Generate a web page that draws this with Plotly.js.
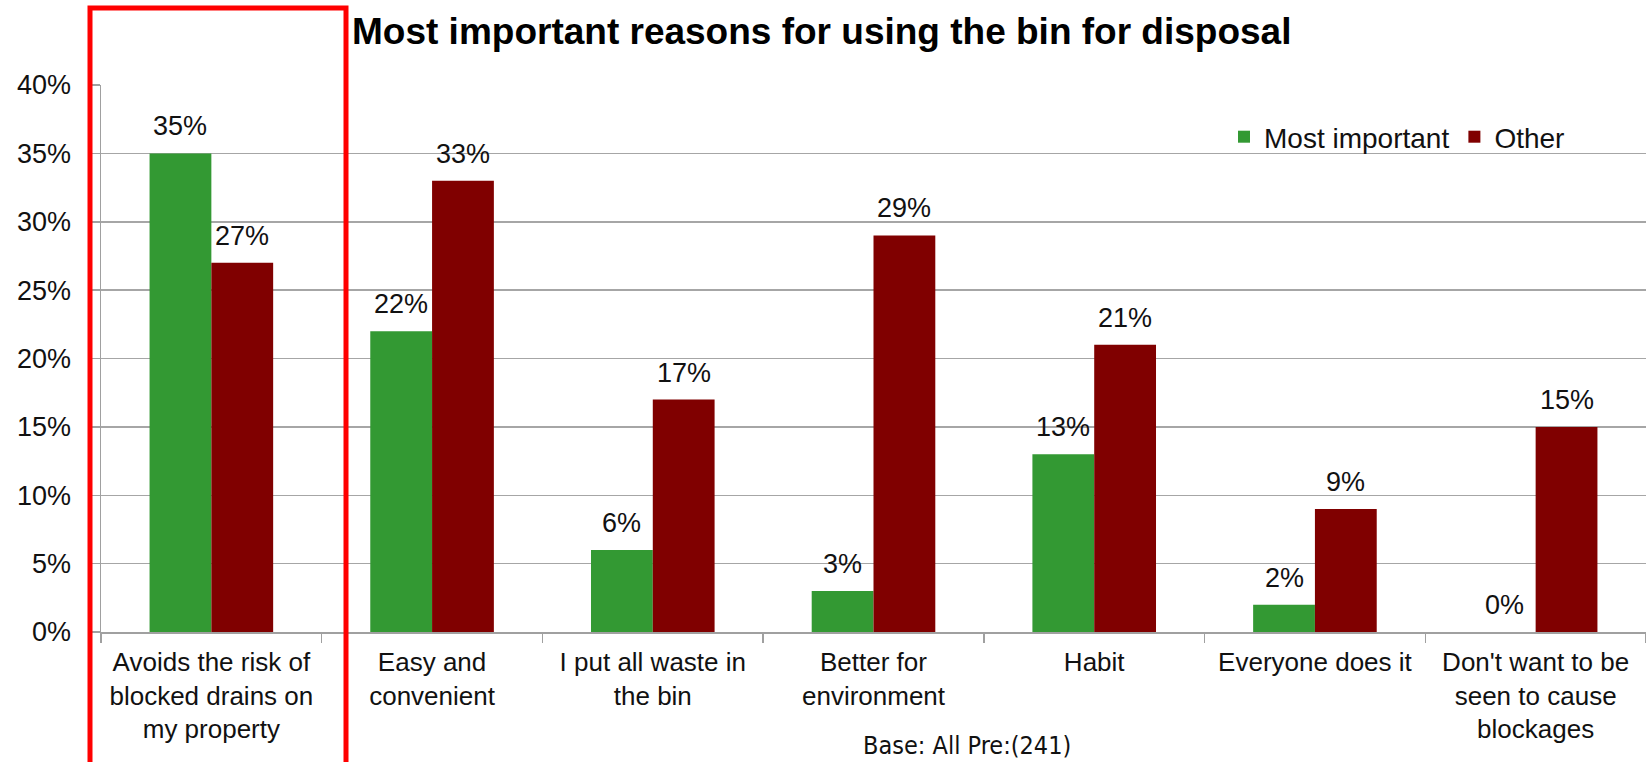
<!DOCTYPE html>
<html>
<head>
<meta charset="utf-8">
<script src="https://cdn.plot.ly/plotly-3.0.1.min.js"></script>
<style>
  html, body { margin: 0; padding: 0; background: #ffffff; }
  #chart { width: 1646px; height: 762px; }
</style>
</head>
<body>
<div id="chart"></div>
<script>
const categories = [
  "Avoids the risk of<br>blocked drains on<br>my property",
  "Easy and<br>convenient",
  "I put all waste in<br>the bin",
  "Better for<br>environment",
  "Habit",
  "Everyone does it",
  "Don't want to be<br>seen to cause<br>blockages"
];
const mostImportant = [35, 22, 6, 3, 13, 2, 0];
const other = [27, 33, 17, 29, 21, 9, 15];
const seriesNames = ["Most important", "Other"];
const yTickVals = [0, 5, 10, 15, 20, 25, 30, 35, 40];
const yTickText = ["0%", "5%", "10%", "15%", "20%", "25%", "30%", "35%", "40%"];
const titleText = "Most important reasons for using the bin for disposal";
const baseText = "Base: All Pre:(241)";

const FONT = "Liberation Sans, Arial, sans-serif";
const GREEN = "#339933";
const RED = "#800000";
const BARGAP = 0.44;
const half = (1 - BARGAP) / 4; // centre offset of each bar in a group

const traces = [
  { type: "bar", name: seriesNames[0], x: categories, y: mostImportant,
    marker: { color: GREEN }, hoverinfo: "skip" },
  { type: "bar", name: seriesNames[1], x: categories, y: other,
    marker: { color: RED }, hoverinfo: "skip" }
];

const labelFont = { family: FONT, size: 27, color: "#111" };
const annotations = [];
mostImportant.forEach((v, i) => annotations.push({
  x: i - half, y: v, xref: "x", yref: "y", text: v + "%", showarrow: false,
  yshift: 27, yanchor: "middle", font: labelFont
}));
other.forEach((v, i) => annotations.push({
  x: i + half, y: v, xref: "x", yref: "y", text: v + "%", showarrow: false,
  yshift: 27, yanchor: "middle", font: labelFont
}));
annotations.push({
  xref: "paper", yref: "paper", x: (967 - 101) / 1545, y: (632 - 745) / 547,
  xanchor: "center", yanchor: "middle",
  text: baseText, showarrow: false,
  font: { family: "Liberation Sans Narrow, DejaVu Sans Condensed, sans-serif", size: 25, color: "#111" }
});

const layout = {
  width: 1646, height: 762,
  paper_bgcolor: "#ffffff", plot_bgcolor: "#ffffff",
  margin: { l: 101, r: 0, t: 85, b: 130, pad: 0 },
  title: {
    text: "<b>" + titleText + "</b>",
    x: 352 / 1646, xanchor: "left", xref: "container",
    y: 1 - 31 / 762, yanchor: "middle", yref: "container",
    font: { family: FONT, size: 37, color: "#000" }
  },
  barmode: "group", bargap: BARGAP, bargroupgap: 0,
  showlegend: true,
  legend: {
    orientation: "h", x: (1570 - 101) / 1545, xanchor: "right", y: 1 - (137 - 85) / 547, yanchor: "middle",
    font: { family: FONT, size: 28, color: "#111" }, bgcolor: "rgba(0,0,0,0)",
    itemclick: false, traceorder: "normal", tracegroupgap: 0, itemwidth: 30
  },
  xaxis: {
    type: "category", range: [-0.5, categories.length - 0.5], autorange: false,
    tickson: "boundaries", ticks: "outside", ticklen: 9,
    tickangle: 0, ticklabelstandoff: 6,
    tickcolor: "#a0a0a0", tickwidth: 1.5,
    showline: true, linecolor: "#a0a0a0", linewidth: 1.5,
    showgrid: false, zeroline: false,
    tickfont: { family: FONT, size: 26, color: "#111" },
    fixedrange: true, automargin: false
  },
  yaxis: {
    range: [0, 40], autorange: false, tickvals: yTickVals, ticktext: yTickText,
    ticks: "outside", ticklen: 9, tickcolor: "#a0a0a0", tickwidth: 1.5,
    ticklabelstandoff: 14,
    showline: true, linecolor: "#a0a0a0", linewidth: 1.5,
    showgrid: true, gridcolor: "#a6a6a6", gridwidth: 1.5, zeroline: false,
    tickfont: { family: FONT, size: 27, color: "#111" },
    fixedrange: true, automargin: false
  },
  annotations: annotations,
  shapes: [{
    type: "rect", xref: "paper", yref: "paper",
    x0: (90 - 101) / 1545, x1: (346 - 101) / 1545,
    y0: (632 - 775) / 547, y1: (632 - 8) / 547,
    line: { color: "#ff0000", width: 5 }, fillcolor: "rgba(0,0,0,0)", layer: "above"
  }]
};

Plotly.newPlot("chart", traces, layout, { displayModeBar: false, staticPlot: true });
</script>
</body>
</html>
